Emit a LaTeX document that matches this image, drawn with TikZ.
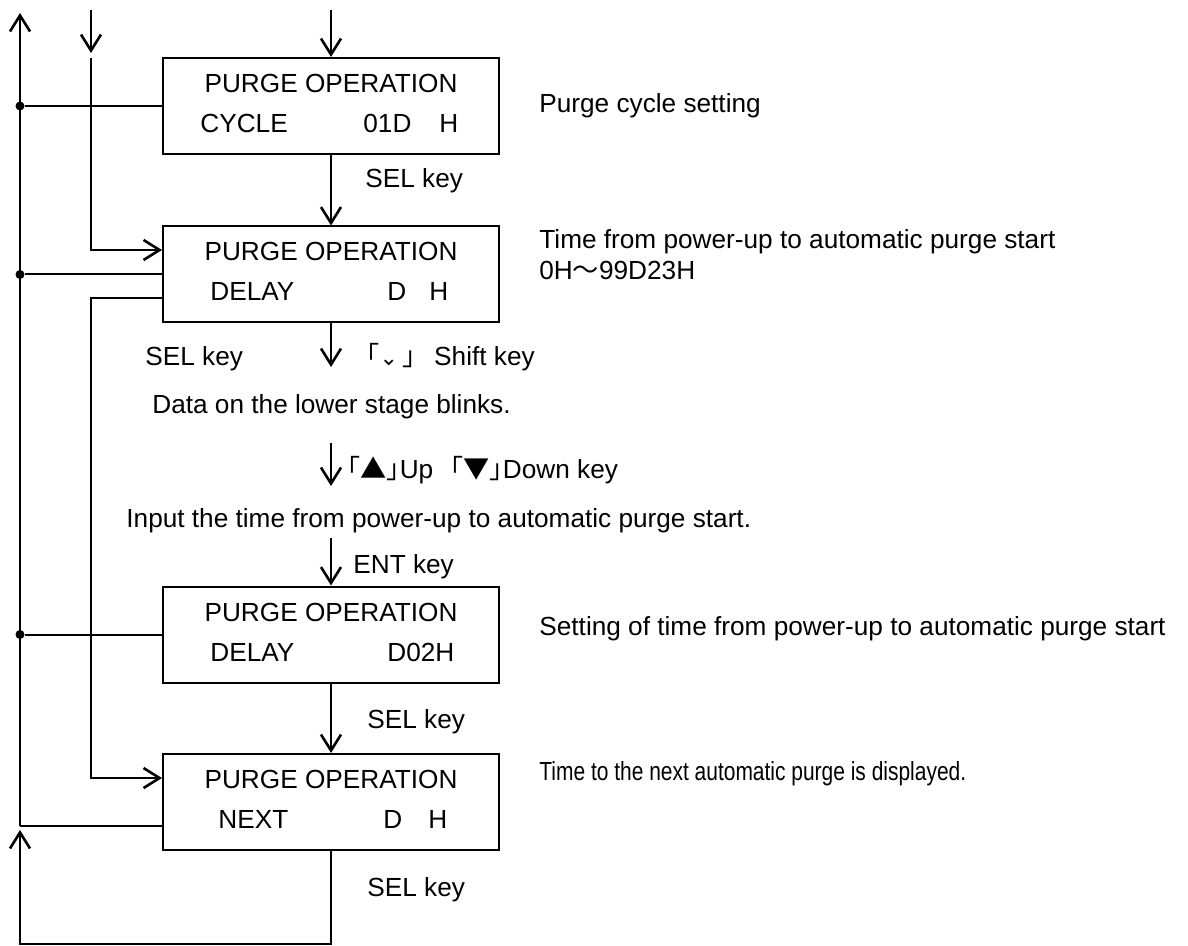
\documentclass[tikz,border=0pt]{standalone}
\usepackage{graphicx}
\usepackage{fontspec}
\setmainfont{Liberation Sans}
\newfontfamily\cjk{Noto Sans CJK JP}
\newfontfamily\dejavu{DejaVu Sans}
\usetikzlibrary{arrows.meta,positioning,calc}

\begin{document}
\begin{tikzpicture}[
    x=0.5pt, y=-0.5pt,
    every node/.style={font=\fontsize{13.1}{15}\selectfont, inner sep=0pt},
    lcd/.style={draw, line width=1pt, minimum width=168pt, minimum height=48pt},
    lbl/.style={anchor=base west},
    arr/.style={-{Straight Barb[length=8pt,width=10pt]}, line width=1.3pt},
    feed/.style={line width=1pt},
    dot/.style={circle, fill, inner sep=0pt, minimum size=4.5pt}
]
\fill[white] (0,0) rectangle (1188,946);
\useasboundingbox (0,0) rectangle (1188,946);

% display boxes
\node[lcd] (cyc) at (331,106)   {};
\node[lcd] (dly) at (331,274.5) {};
\node[lcd] (set) at (331,634.5) {};
\node[lcd] (nxt) at (331,802)   {};

\node[anchor=base] (cyct) at (331,92.5)  {PURGE OPERATION};
\node[lbl] (cycl) at (200,132.5) {CYCLE};
\node[lbl] (cycr) at (363,132.5) {01D\hspace{14pt}H};

\node[anchor=base] (dlyt) at (331,261) {PURGE OPERATION};
\node[lbl] (dlyl) at (210,301) {DELAY};
\node[lbl] (dlyr) at (387,301) {D\hspace{11.5pt}H};

\node[anchor=base] (sett) at (331,621) {PURGE OPERATION};
\node[lbl] (setl) at (210,661) {DELAY};
\node[lbl] (setr) at (387,661) {D02H};

\node[anchor=base] (nxtt) at (331,788.5) {PURGE OPERATION};
\node[lbl] (nxtl) at (218,828.5) {NEXT};
\node[lbl] (nxtr) at (383,828.5) {D\hspace{13pt}H};

% notes on the right
\node[lbl] (ncyc) at (539,113) {Purge cycle setting};
\node[lbl] (ndly) at (539,249) {Time from power-up to automatic purge start};
\node[lbl] (nrng) at (539,280) {0H{\cjk ～}99D23H};
\node[lbl] (nset) at (539,635) {Setting of time from power-up to automatic purge start};
\node[lbl] (nnxt) at (539,780) {\scalebox{0.8}[1]{Time to the next automatic purge is displayed.}};

% key labels and steps
\node[lbl] (sel1) at (365,188) {SEL key};
\node[lbl] (sel2) at (145,365) {SEL key};
\node[lbl] (shft) at (353,365) {{\cjk 「}{\dejavu\fontsize{11}{11}\selectfont ⌄}\hspace{2pt}{\cjk 」}\hspace{3pt}Shift key};
\node[lbl] (blnk) at (152,414) {Data on the lower stage blinks.};
\node[lbl] (updn) at (347,478) {{\cjk ｢▲｣}Up\hspace{5pt} {\cjk ｢▼｣}Down key};
\node[lbl] (inpt) at (126,527) {Input the time from power-up to automatic purge start.};
\node[lbl] (entk) at (353,573) {ENT key};
\node[lbl] (sel3) at (367,728) {SEL key};
\node[lbl] (sel4) at (367,896) {SEL key};

% free ends
\coordinate (topc)  at (331,10);
\coordinate (dlyo)  at (331,367);
\coordinate (udtop) at (331,443);
\coordinate (udtip) at (331,486);
\coordinate (entop) at (331,538);
\coordinate (lpdn)  at (331,944);
\coordinate (lplf)  at (20,944);
\coordinate (lptip) at (20,830);
\coordinate (busb)  at (20,826);
\coordinate (bust)  at (20,13);
\coordinate (inb)   at (91,10);
\coordinate (intip) at (91,53);
\coordinate (bus2)  at (91,58);
\coordinate (ret)   at (91,298);
\coordinate (retdn) at (91,778);

% main flow
\draw[arr] (topc) -- (cyc);
\draw[arr] (cyc) -- (dly);
\draw[arr] (dly) -- (dlyo);
\draw[arr] (udtop) -- (udtip);
\draw[arr] (entop) -- (set);
\draw[arr] (set) -- (nxt);
\draw[arr] (nxt.south) -- (lpdn) -- (lplf) -- (lptip);

% left bus
\draw[arr] (busb) -- (bust);
\draw[feed] (busb) -- (busb -| nxt.west);
\node[dot] (d1) at (20,106)   {};
\node[dot] (d2) at (20,274.5) {};
\node[dot] (d3) at (20,634.5) {};
\draw[feed] (d1) -- (cyc);
\draw[feed] (d2) -- (dly);
\draw[feed] (d3) -- (set);

% inner bus
\draw[arr] (inb) -- (intip);
\draw[arr] (bus2) |- ($(dly.west)+(0,-24.5)$);
\draw[arr] (ret -| dly.west) -- (ret) -- (retdn) -- (retdn -| nxt.west);
\end{tikzpicture}
\end{document}
